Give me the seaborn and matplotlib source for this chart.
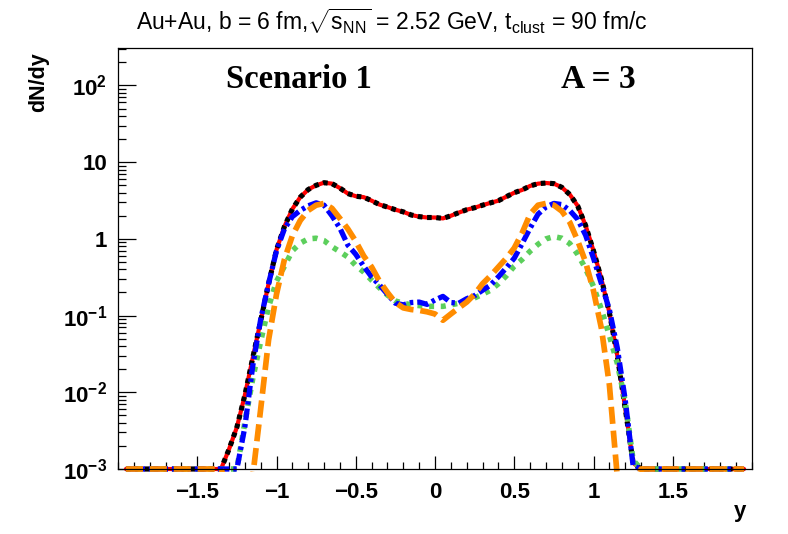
import numpy as np
import pandas as pd
import matplotlib
matplotlib.use('Agg')
import matplotlib.pyplot as plt
import matplotlib.ticker as mticker
from matplotlib.patches import Rectangle
import seaborn as sns

# rapidity grid and dN/dy (0 = empty bin, drawn on the floor)
y_vals = [-1.95, -1.40, -1.35, -1.30, -1.25, -1.20, -1.15, -1.10, -1.05, -1.00,
          -0.95, -0.90, -0.85, -0.80, -0.75, -0.70, -0.65, -0.60, -0.55, -0.50,
          -0.45, -0.40, -0.35, -0.30, -0.25, -0.20, -0.15, -0.10, -0.05, 0.00,
          0.05, 0.10, 0.15, 0.20, 0.25, 0.30, 0.35, 0.40, 0.45, 0.50,
          0.55, 0.60, 0.65, 0.70, 0.75, 0.80, 0.85, 0.90, 0.95, 1.00,
          1.05, 1.10, 1.15, 1.20, 1.25, 1.30, 1.95]

total = [0, 0, 0.001, 0.0018, 0.0035, 0.0091, 0.028, 0.085, 0.26, 0.72,
         1.45, 2.45, 3.5, 4.4, 5.0, 5.4, 5.25, 4.6, 3.9, 3.6,
         3.5, 3.15, 2.8, 2.6, 2.4, 2.25, 2.05, 1.95, 1.9, 1.9,
         1.85, 2.0, 2.2, 2.4, 2.55, 2.75, 2.95, 3.15, 3.55, 4.0,
         4.35, 4.9, 5.25, 5.35, 5.25, 4.7, 3.8, 2.7, 1.5, 0.7,
         0.3, 0.11, 0.03, 0.0062, 0.0012, 0, 0]

blue_vals = [0, 0, 0, 0, 0.001, 0.0035, 0.022, 0.089, 0.26, 0.7,
             1.35, 1.95, 2.35, 2.7, 2.95, 2.75, 2.0, 1.38, 0.83, 0.63,
             0.44, 0.32, 0.25, 0.19, 0.145, 0.138, 0.148, 0.15, 0.14, 0.16,
             0.178, 0.148, 0.145, 0.166, 0.182, 0.214, 0.25, 0.32, 0.42, 0.56,
             0.87, 1.38, 2.1, 2.6, 2.9, 2.8, 2.35, 1.8, 1.12, 0.56,
             0.26, 0.12, 0.038, 0.008, 0.0011, 0, 0]

orange_vals = [0, 0, 0, 0.0005, 0.0003, 0.0003, 0.0008, 0.006, 0.048, 0.19,
               0.54, 1.1, 1.74, 2.35, 2.75, 2.9, 2.5, 1.85, 1.35, 0.93,
               0.6, 0.43, 0.28, 0.2, 0.148, 0.126, 0.12, 0.117, 0.112, 0.105,
               0.087, 0.105, 0.126, 0.15, 0.19, 0.26, 0.33, 0.43, 0.56, 0.76,
               1.2, 2.1, 2.75, 2.9, 2.75, 2.3, 1.65, 0.95, 0.5, 0.21,
               0.068, 0.0126, 0.0008, 0.0003, 0.0005, 0, 0]

green_vals = [0, 0, 0, 0, 0.001, 0.004, 0.015, 0.046, 0.13, 0.28,
              0.44, 0.7, 0.88, 1.0, 1.02, 0.95, 0.79, 0.68, 0.58, 0.45,
              0.37, 0.29, 0.23, 0.185, 0.155, 0.145, 0.138, 0.135, 0.132, 0.132,
              0.132, 0.138, 0.145, 0.155, 0.17, 0.19, 0.214, 0.26, 0.33, 0.44,
              0.54, 0.69, 0.85, 1.0, 1.07, 1.02, 0.87, 0.63, 0.41, 0.24,
              0.12, 0.055, 0.024, 0.0076, 0.0013, 0, 0]

x_ticks = [-1.5, -1.0, -0.5, 0.0, 0.5, 1.0, 1.5]
y_ticks = [1e-3, 1e-2, 1e-1, 1, 10, 100]
y_tick_labels = [r'$\mathbf{10^{-3}}$', r'$\mathbf{10^{-2}}$', r'$\mathbf{10^{-1}}$',
                 '1', '10', r'$\mathbf{10^{2}}$']
y_min, y_max = 1e-3, 308

df = pd.DataFrame({'y': y_vals, 'total': total, 'blue': blue_vals,
                   'orange': orange_vals, 'green': green_vals})

sns.set_style('white')
plt.rcParams['font.family'] = ['Liberation Sans', 'DejaVu Sans']
plt.rcParams['mathtext.fontset'] = 'custom'
plt.rcParams['mathtext.rm'] = 'Liberation Sans'
plt.rcParams['mathtext.it'] = 'Liberation Sans:italic'
plt.rcParams['mathtext.bf'] = 'Liberation Sans:bold'
for key in ['text.color', 'xtick.color', 'ytick.color', 'axes.labelcolor', 'axes.edgecolor']:
    plt.rcParams[key] = 'black'

fig = plt.figure(figsize=(7.88, 5.34), dpi=100)
ax = fig.add_axes([118/788, 65/534, 634/788, 421/534])

# line styles: (column, colour, width, dash pattern)
styles = [('total', 'red', 3.0, '-'),
          ('total', 'black', 3.7, (0, (0.9, 0.9))),
          ('green', '#5ccf5c', 4.0, (0, (0.9, 1.2))),
          ('blue', '#0000ff', 3.8, (0, (2.2, 0.75, 0.65, 0.75))),
          ('orange', '#ff8c00', 4.1, (0, (3.0, 1.2)))]

clip = Rectangle((0, -0.008), 1, 1.008, transform=ax.transAxes)
for col, color, lw, ls in styles:
    vals = np.where(df[col] > 0, df[col], y_min)   # empty bins sit on the floor
    n_before = len(ax.lines)
    sns.lineplot(x=df['y'], y=vals, ax=ax, color=color, linewidth=lw,
                 linestyle=ls, sort=False, estimator=None, dash_capstyle='butt')
    for ln in ax.lines[n_before:]:
        ln.set_clip_path(clip)

ax.set_yscale('log')
ax.set_xlim(-2, 2)
ax.set_ylim(y_min, y_max)

ax.xaxis.set_major_locator(mticker.FixedLocator(x_ticks))
ax.xaxis.set_minor_locator(mticker.MultipleLocator(0.1))
ax.xaxis.set_major_formatter(mticker.FuncFormatter(
    lambda v, p: ('%g' % v).replace('-', '\u2212')))
ax.yaxis.set_major_locator(mticker.FixedLocator(y_ticks))
ax.yaxis.set_major_formatter(mticker.FixedFormatter(y_tick_labels))
ax.yaxis.set_minor_locator(mticker.LogLocator(base=10, subs=np.arange(2, 10)))
ax.yaxis.set_minor_formatter(mticker.NullFormatter())

ax.tick_params(axis='both', which='both', direction='in', bottom=True, left=True,
               top=False, right=False, color='black', width=0.9, labelsize=16)
ax.tick_params(axis='x', which='major', length=9.5, pad=9)
ax.tick_params(axis='x', which='minor', length=5)
ax.tick_params(axis='y', which='major', length=13, pad=8)
ax.tick_params(axis='y', which='minor', length=6)
for lab in ax.get_xticklabels() + ax.get_yticklabels():
    lab.set_fontweight('bold')

for sp in ax.spines.values():
    sp.set_color('black')
    sp.set_linewidth(0.9)

ax.set_xlabel('')
ax.set_ylabel('')
fig.text(740/788, 1 - 512/534, 'y', fontsize=16, fontweight='bold',
         ha='center', va='center')
fig.text(39/788, 1 - 82/534, 'dN/dy', fontsize=15.5, fontweight='bold',
         rotation=90, ha='center', va='center')

fig.text(392/788, 1 - 21/534,
         r'Au+Au, b = 6 fm,$\sqrt{\mathrm{s}_{\mathrm{NN}}}$ = 2.52 GeV, '
         r't$_{\mathrm{clust}}$ = 90 fm/c',
         fontsize=16.5, ha='center', va='center')

ax.text((299 - 118) / 634, (534 - 80 - 65) / 421, 'Scenario 1',
        transform=ax.transAxes, family=['Liberation Serif'], fontweight='bold',
        fontsize=23.5, ha='center', va='center')
ax.text((598 - 118) / 634, (534 - 80 - 65) / 421, 'A = 3',
        transform=ax.transAxes, family=['Liberation Serif'], fontweight='bold',
        fontsize=24, ha='center', va='center')

fig.savefig('out.png', dpi=100)
